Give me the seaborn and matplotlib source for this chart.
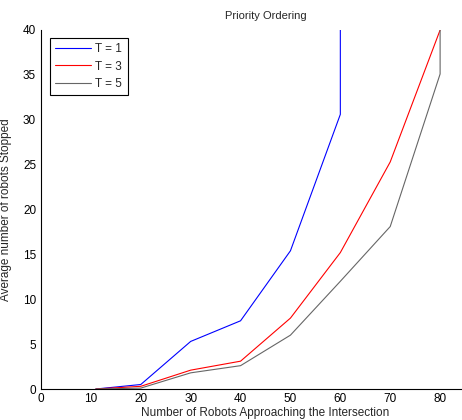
import pandas as pd
import matplotlib
matplotlib.use("Agg")
import matplotlib.pyplot as plt
import seaborn as sns

sns.set_style("white")
plt.rcParams['font.family'] = ['Liberation Sans', 'DejaVu Sans']

# Values
x_t1 = [11, 20, 30, 40, 50, 60, 60]
y_t1 = [0.0, 0.5, 5.3, 7.6, 15.4, 30.6, 40.0]
x_t3 = [11, 20, 30, 40, 50, 60, 70, 80]
y_t3 = [0.0, 0.3, 2.1, 3.1, 7.9, 15.2, 25.3, 40.0]
x_t5 = [11, 20, 30, 40, 50, 60, 70, 80, 80]
y_t5 = [0.0, 0.1, 1.8, 2.6, 6.0, 12.0, 18.1, 35.1, 40.0]

series = [("T = 1", x_t1, y_t1), ("T = 3", x_t3, y_t3), ("T = 5", x_t5, y_t5)]
frames = []
for name, xs, ys in series:
    frames.append(pd.DataFrame({'N': xs, 'Stopped': ys, 'T': name}))
df = pd.concat(frames, ignore_index=True)

palette = {"T = 1": "#0000ff", "T = 3": "#ff0000", "T = 5": "#666666"}

fig = plt.figure(figsize=(4.62, 4.2), dpi=100)
# axes runs past the right edge, as in the cropped original
ax = fig.add_axes([41 / 462, 1 - 389 / 420, 449 / 462, 359 / 420])

sns.lineplot(data=df, x='N', y='Stopped', hue='T', palette=palette,
             estimator=None, sort=False, units='T', linewidth=0.8, ax=ax)

ax.set_xlim(0, 90)
ax.set_ylim(0, 40)
ax.set_xticks(range(0, 81, 10))
ax.set_yticks(range(0, 41, 5))
ax.tick_params(direction='in', length=4, width=0.8, labelsize=8.5, colors='black')
ax.tick_params(axis='x', pad=3)
for s in ['top', 'right']:
    ax.spines[s].set_visible(False)
for s in ['left', 'bottom']:
    ax.spines[s].set_color('black')
    ax.spines[s].set_linewidth(0.8)

ax.set_title('Priority Ordering', fontsize=8, pad=8)
ax.set_xlabel('Number of Robots Approaching the Intersection', fontsize=8.5, labelpad=1)
ax.set_ylabel('Average number of robots Stopped', fontsize=8.5)
ax.yaxis.set_label_coords(-0.064, 0.5)

leg = ax.legend(loc='upper left', bbox_to_anchor=(0.02, 0.978), fontsize=8.5,
                frameon=True, fancybox=False, edgecolor='black', framealpha=1,
                handlelength=3.0, handletextpad=0.4, labelspacing=0.45,
                borderpad=0.45, borderaxespad=0)
leg.get_frame().set_linewidth(0.8)

fig.savefig('out.png', dpi=100)
